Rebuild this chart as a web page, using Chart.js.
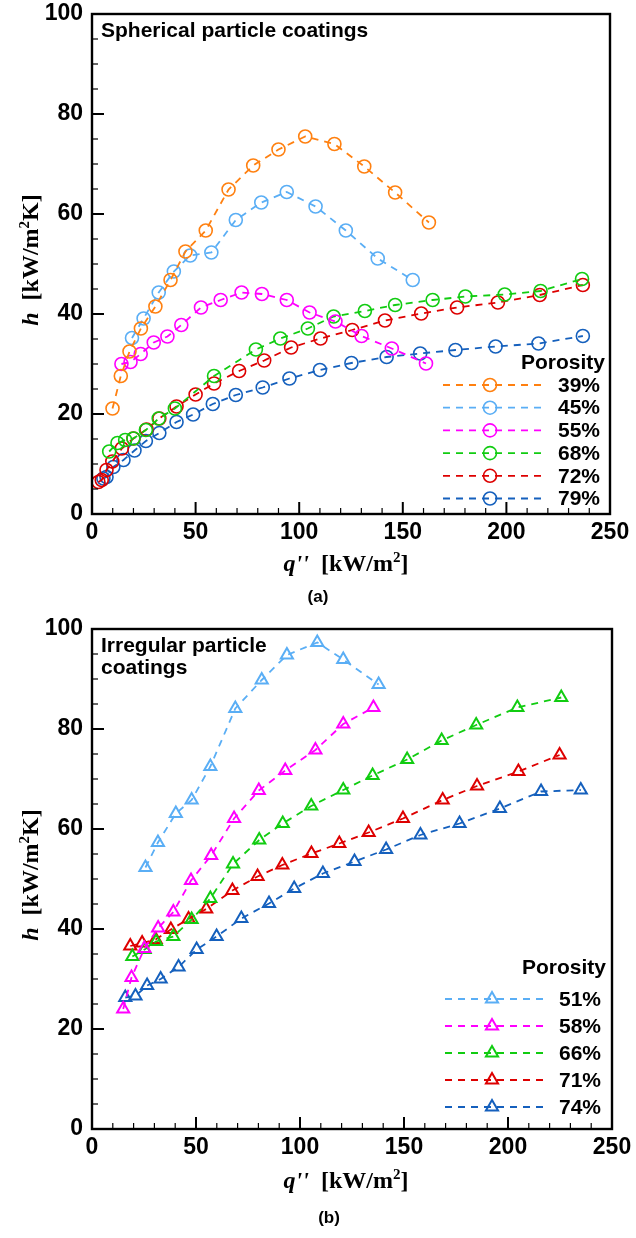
<!DOCTYPE html>
<html>
<head>
<meta charset="utf-8">
<script src="https://cdn.jsdelivr.net/npm/chart.js@4.4.1/dist/chart.umd.min.js"></script>
<style>
  html, body { margin: 0; padding: 0; background: #fff; }
  canvas { position: absolute; left: 0; }
  #chartA { top: 0; }
  #chartB { top: 615px; }
</style>
</head>
<body>
<canvas id="chartA" width="636" height="615"></canvas>
<canvas id="chartB" width="636" height="623"></canvas>
<script>
// ── Data (q'' in kW/m2, h in kW/m2K) ─────────────────────
// (a) spherical particle coatings
const sphLabels = ["39%", "45%", "55%", "68%", "72%", "79%"];
const q39 = [9.9, 13.9, 18.1, 23.6, 30.6, 37.9, 45.1, 54.9, 65.9, 77.8, 90, 102.9, 117, 131.4, 146.3, 162.6];
const h39 = [21.1, 27.6, 32.5, 37.1, 41.5, 46.8, 52.5, 56.7, 64.9, 69.7, 72.9, 75.5, 74.0, 69.5, 64.3, 58.3];
const q45 = [19.3, 24.9, 32.2, 39.5, 47.4, 57.6, 69.4, 81.7, 94, 107.9, 122.5, 137.9, 154.8];
const h45 = [35.2, 39.1, 44.3, 48.5, 51.7, 52.3, 58.8, 62.3, 64.4, 61.5, 56.7, 51.1, 46.8];
const q55 = [14.2, 18.6, 23.5, 29.8, 36.4, 43.1, 52.6, 62.1, 72.2, 82, 94, 105, 117.5, 130.1, 144.7, 161.2];
const h55 = [30.0, 30.4, 32.0, 34.3, 35.5, 37.8, 41.3, 42.8, 44.3, 44.0, 42.8, 40.3, 38.5, 35.6, 33.1, 30.1];
const q68 = [8.3, 12.3, 16, 20, 26, 32.2, 40, 58.9, 79.1, 90.9, 104.2, 116.6, 131.7, 146.3, 164.4, 180.2, 199.2, 216.5, 236.5];
const h68 = [12.5, 14.2, 14.8, 15.1, 16.8, 19.1, 21.1, 27.6, 32.9, 35.1, 37.1, 39.5, 40.6, 41.8, 42.8, 43.5, 43.9, 44.6, 47.0];
const q72 = [3.1, 4.7, 7.0, 9.8, 14.4, 20, 26.3, 32.5, 40.8, 50, 58.9, 71, 83.1, 96.1, 110.3, 125.6, 141.4, 158.9, 176.2, 195.9, 216.1, 236.9];
const h72 = [6.4, 6.8, 8.8, 10.5, 13.1, 15.1, 16.9, 19.1, 21.5, 23.9, 26.1, 28.6, 30.7, 33.3, 35.1, 36.8, 38.7, 40.1, 41.3, 42.3, 43.8, 45.8];
const q79 = [5.5, 7.0, 10.3, 15.2, 20.5, 26, 32.5, 40.8, 48.8, 58.3, 69.4, 82.4, 95.3, 110, 125.2, 142.2, 158.4, 175.4, 194.8, 215.5, 236.9];
const h79 = [7.1, 7.4, 9.4, 10.8, 12.7, 14.6, 16.2, 18.4, 19.9, 22.0, 23.8, 25.3, 27.1, 28.8, 30.2, 31.4, 32.1, 32.8, 33.5, 34.1, 35.6];

// (b) irregular particle coatings
const irrLabels = ["51%", "58%", "66%", "71%", "74%"];
const q51 = [25.7, 31.7, 40.3, 47.9, 56.9, 68.9, 81.6, 93.7, 108.3, 120.8, 137.8];
const h51 = [52.3, 57.3, 63.1, 65.8, 72.5, 84.1, 89.8, 94.8, 97.3, 93.9, 88.9];
const q58 = [15.0, 19.0, 25.2, 31.8, 39.1, 47.6, 57.3, 68.3, 80.2, 92.9, 107.4, 120.8, 135.3];
const h58 = [24.0, 30.3, 36.1, 40.2, 43.4, 49.7, 54.7, 62.1, 67.7, 71.7, 75.8, 81.0, 84.3];
const q66 = [19.4, 25.3, 30.8, 39.1, 47.9, 56.9, 67.8, 80.4, 91.7, 105.4, 120.8, 134.9, 151.5, 168.1, 184.7, 204.5, 225.6];
const h66 = [34.5, 35.9, 37.5, 38.5, 41.9, 46.1, 53.0, 57.8, 61.1, 64.6, 67.8, 70.7, 73.9, 77.7, 80.8, 84.3, 86.3];
const q71 = [18.4, 24.1, 30.6, 37.9, 46.4, 54.9, 67.5, 79.6, 91.5, 105.5, 118.9, 133, 149.5, 168.6, 185.1, 205, 224.8];
const h71 = [36.6, 37.2, 37.9, 39.9, 42.0, 44.0, 47.7, 50.5, 52.8, 55.1, 57.1, 59.3, 62.1, 65.8, 68.6, 71.5, 74.8];
const q74 = [16, 20.9, 26.5, 33, 41.6, 50.3, 59.9, 71.8, 85.1, 97.2, 111, 126.2, 141.4, 157.9, 176.7, 196.1, 215.9, 235];
const h74 = [26.3, 26.6, 28.7, 30.0, 32.4, 35.9, 38.5, 42.1, 45.1, 48.1, 51.1, 53.5, 55.9, 58.8, 61.1, 64.1, 67.5, 67.8];

const xTicks = [0, 50, 100, 150, 200, 250];
const yTicks = [0, 20, 40, 60, 80, 100];

// ── Style ─────────────────────────────────────────────────
const SANS = '"Liberation Sans", Arial, sans-serif';
const SERIF = '"Liberation Serif", "Times New Roman", serif';
const sphColors = ["#ff8010", "#5aaef5", "#ff00ff", "#11cc11", "#dd0000", "#1560bd"];
const irrColors = ["#5aaef5", "#ff00ff", "#11cc11", "#dd0000", "#1560bd"];
const DASH = [7, 6];

function toPoints(xs, ys) {
  return xs.map((x, i) => ({ x, y: ys[i] }));
}

function makeDataset(label, xs, ys, color, marker) {
  const tri = marker === "triangle";
  return {
    label,
    data: toPoints(xs, ys),
    showLine: true,
    borderColor: color,
    borderWidth: 1.8,
    borderDash: DASH,
    pointStyle: marker,
    pointRadius: tri ? 7 : 6.5,
    pointBorderWidth: tri ? 2 : 1.6,
    pointBorderColor: color,
    pointBackgroundColor: "rgba(0,0,0,0)",
  };
}

// draws a run of text pieces (italic / superscript) centred on x
function drawRich(ctx, parts, cx, cy) {
  const widths = parts.map((p) => {
    ctx.font = p.font;
    return ctx.measureText(p.t).width;
  });
  let x = cx - widths.reduce((a, b) => a + b, 0) / 2;
  parts.forEach((p, i) => {
    ctx.font = p.font;
    ctx.fillText(p.t, x, cy + (p.dy || 0));
    x += widths[i];
  });
}

const decor = {
  id: "decor",
  afterDatasetsDraw(chart, args, o) {
    const { ctx, chartArea: a, scales: { x, y } } = chart;
    ctx.save();
    ctx.strokeStyle = "#000";
    ctx.fillStyle = "#000";
    ctx.setLineDash([]);

    // inward ticks on the left and bottom axes
    for (let v = 0; v <= 250; v += 10) {
      const px = x.getPixelForValue(v);
      const major = xTicks.includes(v);
      ctx.lineWidth = major ? 2 : 1.2;
      ctx.beginPath();
      ctx.moveTo(px, a.bottom);
      ctx.lineTo(px, a.bottom - (major ? 12 : 6));
      ctx.stroke();
    }
    for (let v = 0; v <= 100; v += 5) {
      const py = y.getPixelForValue(v);
      const major = yTicks.includes(v);
      ctx.lineWidth = major ? 2 : 1.2;
      ctx.beginPath();
      ctx.moveTo(a.left, py);
      ctx.lineTo(a.left + (major ? 12 : 6), py);
      ctx.stroke();
    }
    ctx.lineWidth = 2.4;
    ctx.strokeRect(a.left, a.top, a.width, a.height);

    // panel title inside the plot
    ctx.font = `bold 21px ${SANS}`;
    ctx.textAlign = "left";
    ctx.textBaseline = "alphabetic";
    o.title.forEach((line, i) => ctx.fillText(line, a.left + 9, a.top + 23 + i * 22));

    // axis titles
    ctx.textAlign = "left";
    const it = `italic bold 24px ${SERIF}`;
    const bd = `bold 24px ${SERIF}`;
    const sp = `bold 15px ${SERIF}`;
    drawRich(ctx, [
      { t: "q", font: it },
      { t: "''", font: it },
      { t: "  [kW/m", font: bd },
      { t: "2", font: sp, dy: -9 },
      { t: "]", font: bd },
    ], 346, o.xTitleY);
    ctx.save();
    ctx.translate(38, (a.top + a.bottom) / 2 - 4);
    ctx.rotate(-Math.PI / 2);
    drawRich(ctx, [
      { t: "h", font: it },
      { t: "  [kW/m", font: bd },
      { t: "2", font: sp, dy: -9 },
      { t: "K]", font: bd },
    ], 0, 0);
    ctx.restore();

    // legend
    const L = o.legend;
    ctx.font = `bold 21px ${SANS}`;
    ctx.textAlign = "right";
    ctx.textBaseline = "middle";
    ctx.fillText("Porosity", L.right + 5, L.headY);
    chart.data.datasets.forEach((ds, i) => {
      const ly = L.firstY + i * L.step;
      ctx.strokeStyle = ds.borderColor;
      ctx.lineWidth = 1.8;
      ctx.setLineDash(DASH);
      ctx.beginPath();
      ctx.moveTo(L.x1, ly);
      ctx.lineTo(L.x2, ly);
      ctx.stroke();
      ctx.setLineDash([]);
      ctx.lineWidth = ds.pointBorderWidth;
      ctx.fillStyle = "rgba(0,0,0,0)";
      Chart.helpers.drawPoint(ctx, {
        pointStyle: ds.pointStyle,
        radius: ds.pointRadius,
        borderWidth: ds.pointBorderWidth,
        rotation: 0,
      }, (L.x1 + L.x2) / 2 - 2, ly);
      ctx.fillStyle = "#000";
      ctx.fillText(ds.label, L.right, ly + 1);
    });

    // sub-figure label
    ctx.font = `bold 17px ${SANS}`;
    ctx.textAlign = "center";
    ctx.fillText(o.sub, o.subX, o.subY);
    ctx.restore();
  },
};

function makeChart(id, datasets, rightPad, opts) {
  const canvas = document.getElementById(id);
  const H = canvas.height;
  const tickFont = { family: SANS, size: 23, weight: "bold" };
  return new Chart(canvas, {
    type: "scatter",
    data: { datasets },
    options: {
      responsive: false,
      animation: false,
      layout: { padding: { top: 14, right: rightPad, left: 0, bottom: 0 } },
      plugins: { legend: { display: false }, tooltip: { enabled: false }, decor: opts },
      scales: {
        x: {
          type: "linear", min: 0, max: 250,
          afterFit: (s) => {
            s.height = H - 514;
            s.paddingLeft = 0;
            s.paddingRight = 0;
          },
          ticks: { stepSize: 50, color: "#000", font: tickFont, padding: 5 },
          grid: { display: false, drawTicks: false },
          border: { display: false },
        },
        y: {
          type: "linear", min: 0, max: 100,
          afterFit: (s) => {
            s.width = 92;
            s.paddingTop = 0;
            s.paddingBottom = 0;
          },
          ticks: { stepSize: 20, color: "#000", font: tickFont, padding: 9 },
          grid: { display: false, drawTicks: false },
          border: { display: false },
        },
      },
    },
    plugins: [decor],
  });
}

const sphQ = [q39, q45, q55, q68, q72, q79];
const sphH = [h39, h45, h55, h68, h72, h79];
const irrQ = [q51, q58, q66, q71, q74];
const irrH = [h51, h58, h66, h71, h74];

makeChart(
  "chartA",
  sphLabels.map((l, i) => makeDataset(l, sphQ[i], sphH[i], sphColors[i], "circle")),
  26,
  {
    title: ["Spherical particle coatings"],
    xTitleY: 571,
    sub: "(a)", subX: 318, subY: 597,
    legend: { right: 600, headY: 363, firstY: 385, step: 22.7, x1: 443, x2: 541 },
  }
);

makeChart(
  "chartB",
  irrLabels.map((l, i) => makeDataset(l, irrQ[i], irrH[i], irrColors[i], "triangle")),
  24,
  {
    title: ["Irregular particle", "coatings"],
    xTitleY: 573,
    sub: "(b)", subX: 329, subY: 603,
    legend: { right: 601, headY: 353, firstY: 384, step: 27, x1: 445, x2: 543 },
  }
);
</script>
</body>
</html>
